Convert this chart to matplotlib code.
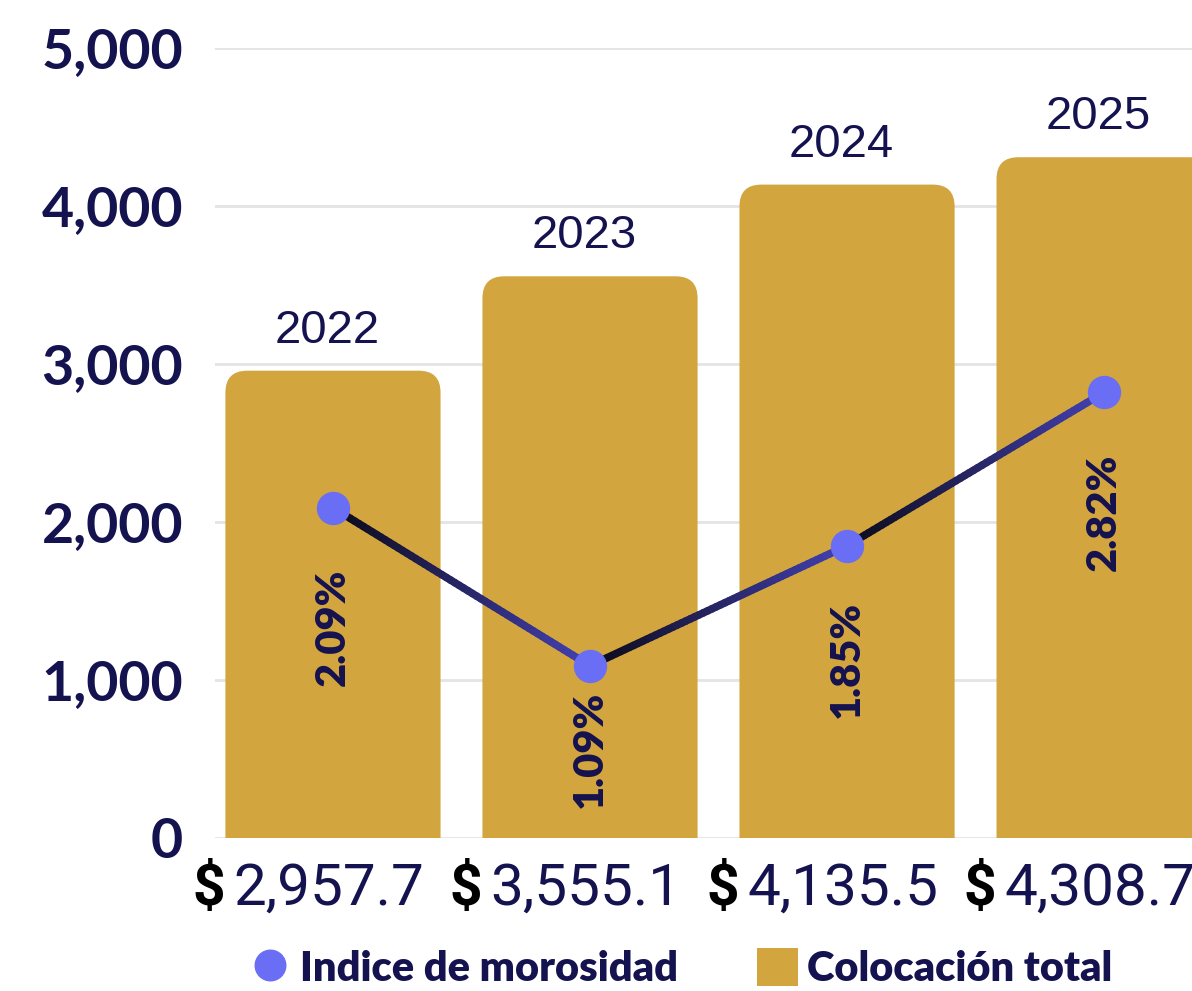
import numpy as np
import matplotlib
matplotlib.use("Agg")
import matplotlib.pyplot as plt
from matplotlib.patches import FancyBboxPatch, Patch
from matplotlib.lines import Line2D
from matplotlib.collections import LineCollection
from matplotlib.colors import LinearSegmentedColormap

# datos
anios = ["2022", "2023", "2024", "2025"]
colocacion = [2957.7, 3555.1, 4135.5, 4308.7]
morosidad = [2.09, 1.09, 1.85, 2.82]
yticks = [0, 1000, 2000, 3000, 4000, 5000]

navy = "#14124f"
oro = "#d2a53e"
punto = "#6a6ef5"

fig = plt.figure(figsize=(11.92, 9.91), dpi=100)
ax = fig.add_axes([215 / 1192, (991 - 838) / 991, 1069 / 1192, 790 / 991])
x = np.arange(len(anios))

# barras con esquinas superiores redondeadas
barras = ax.bar(x, colocacion, width=0.837, color=oro)
for b in barras:
    bx, by = b.get_x(), b.get_y()
    w, h = b.get_width(), b.get_height()
    p = FancyBboxPatch((bx, by - 400), w, h + 400,
                       boxstyle="round,pad=0,rounding_size=0.085",
                       mutation_aspect=1627, fc=oro, ec="none", zorder=2)
    ax.add_patch(p)
    b.remove()

ax.set_xlim(-0.459, 3.7)
ax.set_ylim(0, 5000)
ax.set_yticks(yticks)
ax.set_yticklabels([f"{v:,}" for v in yticks], fontsize=40, fontweight="bold",
                   family="Lato", color=navy)
ax.tick_params(axis="y", length=0, pad=23)
ax.set_xticks([])
ax.grid(axis="y", color="#e4e4e4", linewidth=2, zorder=0)
ax.set_axisbelow(True)
for s in ax.spines.values():
    s.set_visible(False)

# año sobre cada barra
for xi, v, a in zip(x, colocacion, anios):
    ax.annotate(a, (xi, v), xytext=(-4, 13), textcoords="offset points",
                ha="center", va="bottom", fontsize=34, family="Liberation Sans",
                color=navy, annotation_clip=False)

# monto debajo de cada barra
for xi, v in zip(x, colocacion):
    ax.annotate("$", (xi, 0), xytext=(-78, -17), textcoords="offset points",
                ha="right", va="top", fontsize=41, fontweight="bold",
                family="Roboto", color="black", annotation_clip=False)
    ax.annotate(f"{v:,.1f}", (xi, 0), xytext=(-72, -17), textcoords="offset points",
                ha="left", va="top", fontsize=42, fontweight="normal",
                family="Roboto", color=navy, annotation_clip=False)

# indice de morosidad en eje secundario
ax2 = ax.twinx()
ax2.set_ylim(0, 5)
ax2.axis("off")

cmap = LinearSegmentedColormap.from_list("seg", ["#0b0a18", "#4240b0"])
for i in range(len(x) - 1):
    t = np.linspace(0, 1, 60)
    xs = x[i] + (x[i + 1] - x[i]) * t
    ys = morosidad[i] + (morosidad[i + 1] - morosidad[i]) * t
    pts = np.column_stack([xs, ys]).reshape(-1, 1, 2)
    segs = np.concatenate([pts[:-1], pts[1:]], axis=1)
    lc = LineCollection(segs, cmap=cmap, linewidths=5.5, capstyle="round", zorder=3)
    lc.set_array(t[:-1])
    ax2.add_collection(lc)

ax2.plot(x, morosidad, ls="none", marker="o", markersize=23,
         color=punto, mec=punto, zorder=4)

offsets = [-44, -18, -40, -44]
for xi, m, off in zip(x, morosidad, offsets):
    ax2.annotate(f"{m:.2f}%", (xi, m), xytext=(0, off), textcoords="offset points",
                 ha="center", va="top", rotation=90, fontsize=30,
                 fontweight="heavy", family="Lato", color=navy,
                 annotation_clip=False, zorder=5)

handles = [
    Line2D([], [], ls="none", marker="o", markersize=22, color=punto),
    Patch(facecolor=oro, edgecolor="none"),
]
fig.legend(handles, ["Indice de morosidad", "Colocación total"],
           loc="center left", bbox_to_anchor=(212 / 1192, 0.023), ncol=2,
           frameon=False, handlelength=1.0, handleheight=1.0,
           handletextpad=0.2, columnspacing=1.9,
           prop={"family": "Lato", "weight": "heavy", "size": 30},
           labelcolor=navy)

fig.savefig("out.png", dpi=100, facecolor="white")
